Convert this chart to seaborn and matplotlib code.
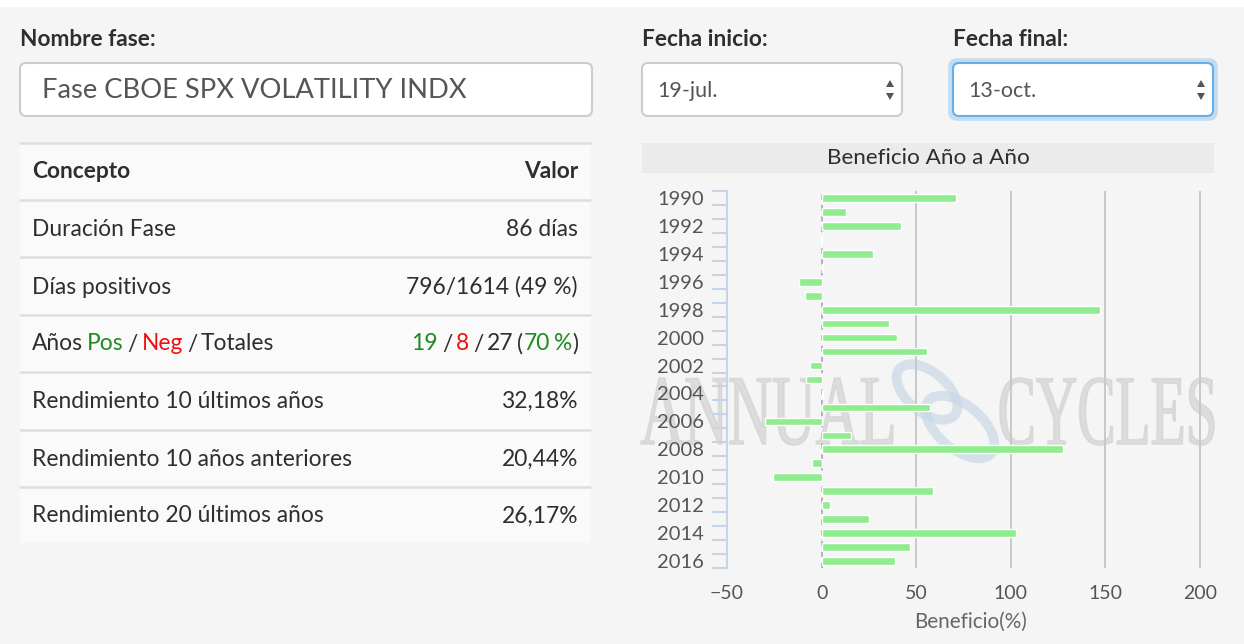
import numpy as np
import pandas as pd
import seaborn as sns
import matplotlib.pyplot as plt
from matplotlib.patches import FancyBboxPatch, Rectangle, Polygon, PathPatch, Ellipse
from matplotlib.transforms import IdentityTransform, Affine2D
from matplotlib.textpath import TextPath
from matplotlib.font_manager import FontProperties

# datos
years = list(range(1990, 2017))
beneficio = [71, 13, 42, -0.4, 27, 1, -12, -8.5, 147, 35.5, 40, 55.5, -6, -8,
             1, 57.5, -30, 15.5, 127.5, -5, -25.5, 59, 4.5, 25, 103, 47, 39]

conceptos = ["Duración Fase", "Días positivos", None,
             "Rendimiento 10 últimos años", "Rendimiento 10 años anteriores",
             "Rendimiento 20 últimos años"]
valores = ["86 días", "796/1614 (49 %)", None, "32,18%", "20,44%", "26,17%"]

GREEN = '#1f8a1f'
RED = '#ee1111'
DARK = '#2e2e2e'
anos_label = [("Años ", DARK), ("Pos", GREEN), (" / ", DARK), ("Neg", RED), (" / Totales", DARK)]
anos_valor = [("19", GREEN), (" / ", DARK), ("8", RED), (" / 27 (", DARK), ("70 %", GREEN), (")", DARK)]

nombre_fase = "Fase CBOE SPX VOLATILITY INDX"
fecha_inicio = "19-jul."
fecha_final = "13-oct."

sns.set_style('white')
plt.rcParams['font.family'] = ['Lato', 'DejaVu Sans']

W, H = 1244, 644
fig = plt.figure(figsize=(W / 100, H / 100), dpi=100, facecolor='#f5f5f5')
ID = IdentityTransform()
r = fig.canvas.get_renderer()


def txt(x, y, s, **kw):
    kw.setdefault('va', 'center')
    kw.setdefault('color', DARK)
    return fig.text(x, H - y, s, transform=ID, **kw)


def width(s, **kw):
    t = txt(0, 0, s, **kw)
    w = t.get_window_extent(r).width
    t.remove()
    return w


def seg_text(x, y, segs, ha='left', shrink=2.0, **kw):
    # texto con varios colores, palabra a palabra, espacios algo mas estrechos
    toks = []
    for s, c in segs:
        for i, p in enumerate(s.split(' ')):
            if i > 0 and toks:
                toks[-1][2] = True
            if p:
                toks.append([p, c, False])
    wx = width('x', **kw)
    gap = width('x x', **kw) - width('xx', **kw) - shrink
    advs = [width(t + 'x', **kw) - wx for t, c, sp in toks]
    total = sum(advs[:-1]) + width(toks[-1][0], **kw) + gap * sum(sp for t, c, sp in toks[:-1])
    cur = x if ha == 'left' else x - total
    for (t, c, sp), a in zip(toks, advs):
        txt(cur, y, t, color=c, ha='left', **kw)
        cur += a + (gap if sp else 0)


def box(x0, y0, x1, y1, **kw):
    p = FancyBboxPatch((x0, H - y1), x1 - x0, y1 - y0,
                       boxstyle='round,pad=0,rounding_size=6', transform=ID, **kw)
    fig.add_artist(p)


def hline(x0, x1, y, **kw):
    fig.add_artist(plt.Line2D([x0, x1], [H - y, H - y], transform=ID, **kw))


def arrows(x, y):
    fig.add_artist(Polygon([[x - 4, H - y + 3], [x + 4, H - y + 3], [x, H - y + 10]],
                           transform=ID, fc='#555555', ec='none'))
    fig.add_artist(Polygon([[x - 4, H - y - 3], [x + 4, H - y - 3], [x, H - y - 10]],
                           transform=ID, fc='#555555', ec='none'))


# franja blanca superior
fig.add_artist(Rectangle((0, H - 7), W, 7, transform=ID, fc='white', ec='none'))

# formulario
LBL = 16.3
txt(20, 40, "Nombre fase:", fontsize=LBL, weight='bold')
box(20, 63, 592, 116, fc='white', ec='#cccccc', lw=1.5)
txt(42, 91, nombre_fase, fontsize=19.7, color='#555555')

txt(642, 40, "Fecha inicio:", fontsize=LBL, weight='bold')
box(642, 63, 902, 116, fc='white', ec='#cccccc', lw=1.5)
txt(657, 91, fecha_inicio, fontsize=15.5, color='#555555')
arrows(890, 90)

txt(953, 40, "Fecha final:", fontsize=LBL, weight='bold')
box(951, 61, 1215, 118, fc='none', ec='#66afe9', lw=4, alpha=0.35)
box(953, 63, 1213, 116, fc='white', ec='#66afe9', lw=1.5)
txt(968, 91, fecha_final, fontsize=15.5, color='#555555')
arrows(1201, 90)

# tabla
TB = 16.4
fig.add_artist(Rectangle((20, H - 543), 570, 400, transform=ID, fc='#fafafa', ec='none'))
for y in [143, 200, 257, 315, 372, 430, 487]:
    hline(20, 590, y, color='#dedede', lw=1.8)
txt(32, 172, "Concepto", fontsize=TB, weight='bold')
txt(578, 172, "Valor", fontsize=TB, weight='bold', ha='right')
rows_y = [229, 287, 344, 401, 459, 516]
for y, c, v in zip(rows_y, conceptos, valores):
    if c is None:
        seg_text(32, y, anos_label, fontsize=TB)
        seg_text(578, y, anos_valor, ha='right', fontsize=TB)
    else:
        txt(32, y, c, fontsize=TB)
        txt(578, y, v, fontsize=TB, ha='right')

# titulo del grafico
fig.add_artist(Rectangle((642, H - 173), 572, 30, transform=ID, fc='#ebebeb', ec='none'))
txt(928, 158, "Beneficio Año a Año", fontsize=16.2, ha='center')


# marca de agua
def wm(s, x0, x1, ytop, ybot):
    tp = TextPath((0, 0), s, size=100, prop=FontProperties(family='Liberation Serif'))
    ext = tp.get_extents()
    tr = Affine2D().translate(-ext.x0, -ext.y0).scale((x1 - x0) / ext.width, (ybot - ytop) / ext.height)
    tr = tr.translate(x0, H - ybot)
    fig.add_artist(PathPatch(tr.transform_path(tp), transform=ID, fc='#d4d4d4',
                             ec='#d4d4d4', lw=1.2, alpha=0.75, zorder=-1))


wm("ANNUAL", 641, 893, 378, 445)
wm("CYCLES", 1000, 1214, 378, 445)
for cx, cy, w, h in [(927, 392, 72, 40), (960, 427, 82, 44)]:
    fig.add_artist(Ellipse((cx, H - cy), w, h, angle=-40, transform=ID, fc='none',
                           ec='#c9d8e8', lw=7, alpha=0.7, zorder=-1))

# grafico de barras
ax = fig.add_axes([727 / W, (H - 568) / H, (1215 - 727) / W, (568 - 191) / H])
ax.set_facecolor('none')
df = pd.DataFrame({'year': [str(y) for y in years], 'beneficio': beneficio})
sns.barplot(data=df, x='beneficio', y='year', orient='h', color='#8fec8f',
            saturation=1, width=0.55, ax=ax, zorder=2)
for v in [50, 100, 150, 200]:
    ax.axvline(v, color='#c8c8c8', lw=1.4, zorder=0)
ax.axvline(0, color='#b4a6c6', lw=1.3, ls=(0, (3, 3)), zorder=1)

ax.set_xlim(-50, 208)
ax.set_ylim(26.5, -0.5)
ax.set_xticks([-50, 0, 50, 100, 150, 200])
ax.set_yticks(range(0, 27, 2))
ax.set_yticklabels([str(y) for y in years[::2]])
ax.set_yticks(np.arange(-0.5, 27, 1), minor=True)
ax.tick_params(axis='y', which='major', left=True, length=0, pad=16.5, labelsize=14.5,
               labelcolor='#555555')
ax.tick_params(axis='y', which='minor', left=True, length=11, width=1.5, color='#c5d5e5')
ax.tick_params(axis='x', length=0, pad=12, labelsize=14, labelcolor='#555555')
for s in ['top', 'right', 'bottom']:
    ax.spines[s].set_visible(False)
ax.spines['left'].set_color('#c5d5e5')
ax.spines['left'].set_linewidth(1.5)
ax.set_ylabel('')
ax.set_xlabel('Beneficio(%)', fontsize=14.9, color='#666666', labelpad=7)

fig.savefig('out.png', dpi=100, facecolor=fig.get_facecolor())
